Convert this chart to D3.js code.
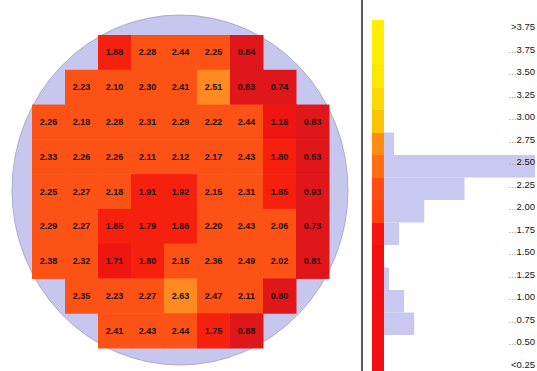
<!DOCTYPE html>
<html>
<head>
<meta charset="utf-8">
<script src="https://cdn.jsdelivr.net/npm/d3@7"></script>
<style>
  body { margin: 0; background: #fff; }
  svg { display: block; }
</style>
</head>
<body>
<svg width="537" height="371"></svg>
<script>
// wafer map values, one array per row, with the first column index of each row
var rowStart = [2, 1, 0, 0, 0, 0, 0, 1, 2]
var rowValues = [
  [1.88, 2.28, 2.44, 2.25, 0.84],
  [2.23, 2.10, 2.30, 2.41, 2.51, 0.83, 0.74],
  [2.26, 2.18, 2.28, 2.31, 2.29, 2.22, 2.44, 1.18, 0.83],
  [2.33, 2.26, 2.26, 2.11, 2.12, 2.17, 2.43, 1.80, 0.53],
  [2.25, 2.27, 2.18, 1.91, 1.92, 2.15, 2.31, 1.85, 0.93],
  [2.29, 2.27, 1.85, 1.79, 1.86, 2.20, 2.43, 2.06, 0.73],
  [2.38, 2.32, 1.71, 1.80, 2.15, 2.36, 2.49, 2.02, 0.81],
  [2.35, 2.23, 2.27, 2.63, 2.47, 2.11, 0.80],
  [2.41, 2.43, 2.44, 1.75, 0.88]
]

// legend bins, top to bottom
var binLabels = [">3.75", "3.75", "3.50", "3.25", "3.00", "2.75", "2.50", "2.25",
                 "2.00", "1.75", "1.50", "1.25", "1.00", "0.75", "0.50", "<0.25"]
var binColors = ["#ffee00", "#ffee00", "#ffe800", "#fdd800", "#f9c404", "#ff8c12",
                 "#ff6e10", "#ff4c10", "#ff4210", "#f51410", "#f31010", "#f21012",
                 "#f01012", "#f21010", "#f31010", "#f01014"]
// histogram counts per legend bin
var binCounts = [0, 0, 0, 0, 0, 2, 30, 16, 8, 3, 0, 1, 4, 6, 0, 0]

// cell colours
var cellThresholds = [1.0, 1.75, 2.0, 2.5, 2.75]
var cellColors = ["#df161a", "#ef1612", "#f6200f", "#fc5216", "#ff8a22", "#ffc000"]

var svg = d3.select("svg")

var cells = []
rowValues.forEach(function(row, r){
  row.forEach(function(v, i){
    cells.push({row: r, col: rowStart[r] + i, value: v})
  })
})

var x = d3.scaleBand().domain(d3.range(9)).range([32, 329])
var y = d3.scaleBand().domain(d3.range(9)).range([35, 348])
var cellColor = d3.scaleThreshold().domain(cellThresholds).range(cellColors)

// wafer outline
svg.append("ellipse")
  .attr("cx", 180).attr("cy", 190)
  .attr("rx", 168).attr("ry", 175)
  .attr("fill", "#c6c6ee")
  .attr("stroke", "#acacc8")
  .attr("stroke-width", 1)

var g = svg.append("g")

g.selectAll("rect")
  .data(cells)
  .enter()
  .append("rect")
  .attr("x", function(d){ return x(d.col) })
  .attr("y", function(d){ return y(d.row) })
  .attr("width", x.bandwidth() + 0.5)
  .attr("height", y.bandwidth() + 0.5)
  .attr("fill", function(d){ return cellColor(d.value) })

g.selectAll("text")
  .data(cells)
  .enter()
  .append("text")
  .attr("x", function(d){ return x(d.col) + x.bandwidth() / 2 })
  .attr("y", function(d){ return y(d.row) + y.bandwidth() / 2 + 3 })
  .attr("text-anchor", "middle")
  .attr("font-family", "Liberation Sans, Arial, sans-serif")
  .attr("font-weight", "bold")
  .attr("font-size", 9)
  .attr("fill", "#1c1010")
  .text(function(d){ return d.value.toFixed(2) })

// divider line
svg.append("line")
  .attr("x1", 362).attr("x2", 362)
  .attr("y1", 0).attr("y2", 371)
  .attr("stroke", "#1e1e3c")
  .attr("stroke-width", 1.5)

// legend colour bar + histogram
var by = d3.scaleBand().domain(d3.range(binLabels.length)).range([20, 380])
var hx = d3.scaleLinear().domain([0, 30]).range([384, 535])

var legend = svg.append("g")

legend.selectAll(".hist")
  .data(binCounts)
  .enter()
  .append("rect")
  .attr("class", "hist")
  .attr("x", hx(0))
  .attr("y", function(d, i){ return by(i) })
  .attr("width", function(d){ return hx(d) - hx(0) })
  .attr("height", by.bandwidth())
  .attr("fill", "#c8c8f0")

legend.selectAll(".swatch")
  .data(binColors)
  .enter()
  .append("rect")
  .attr("class", "swatch")
  .attr("x", 372)
  .attr("y", function(d, i){ return by(i) })
  .attr("width", 12)
  .attr("height", by.bandwidth() + 1)
  .attr("fill", function(d){ return d })
  .attr("shape-rendering", "crispEdges")

var labels = legend.selectAll(".lab")
  .data(binLabels)
  .enter()
  .append("text")
  .attr("class", "lab")
  .attr("x", 535)
  .attr("y", function(d, i){ return by(i) + by.bandwidth() / 2 - 1 })
  .attr("text-anchor", "end")
  .attr("font-family", "Liberation Sans, Arial, sans-serif")
  .attr("font-size", 9.5)
  .attr("fill", "#141414")

labels.each(function(d){
  var t = d3.select(this)
  if (d[0] != ">" && d[0] != "<") {
    t.append("tspan").attr("fill", "#9a9a9a").text("...")
  }
  t.append("tspan").text(d)
})
</script>
</body>
</html>
